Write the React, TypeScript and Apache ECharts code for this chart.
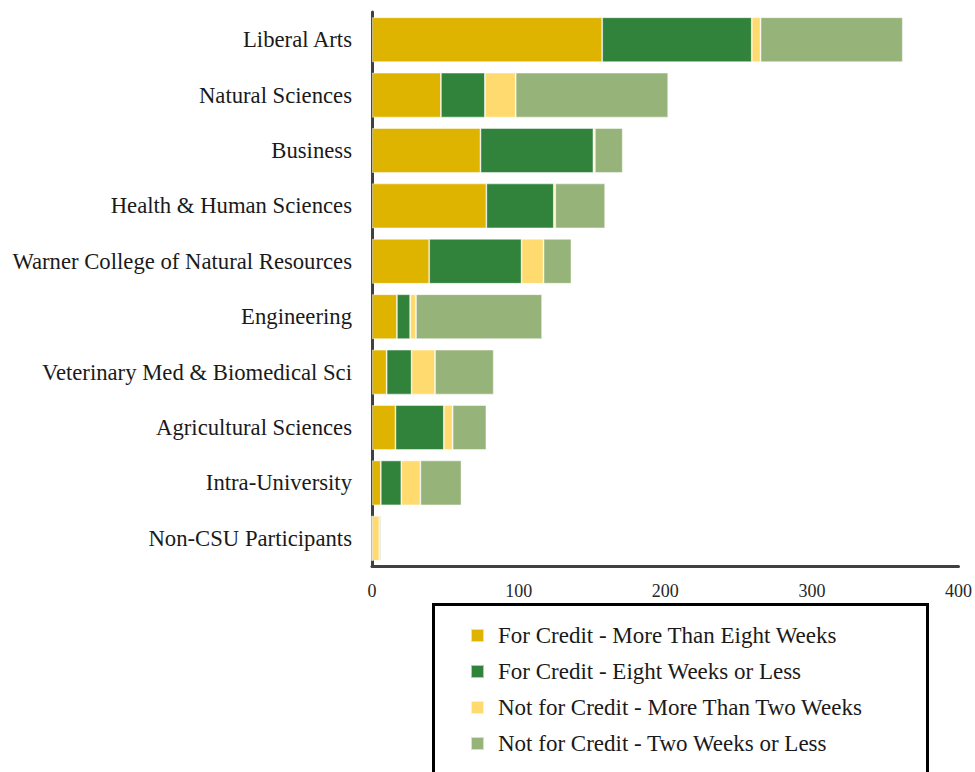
import React, { useEffect, useRef } from "react";
import * as echarts from "echarts";

const categories = [
  "Liberal Arts",
  "Natural Sciences",
  "Business",
  "Health & Human Sciences",
  "Warner College of Natural Resources",
  "Engineering",
  "Veterinary Med & Biomedical Sci",
  "Agricultural Sciences",
  "Intra-University",
  "Non-CSU Participants",
];

const seriesNames = [
  "For Credit - More Than Eight Weeks",
  "For Credit - Eight Weeks or Less",
  "Not for Credit - More Than Two Weeks",
  "Not for Credit - Two Weeks or Less",
];

const creditMoreThanEight = [157, 47, 74, 78, 39, 17, 10, 16, 6, 0];
const creditEightOrLess = [102, 30, 77, 46, 63, 9, 17, 33, 14, 0];
const notCreditMoreThanTwo = [6, 21, 1, 1, 15, 4, 16, 6, 13, 5];
const notCreditTwoOrLess = [97, 104, 19, 34, 19, 86, 40, 23, 28, 1];

const xTicks = [0, 100, 200, 300, 400];

const colors = ["#DFB400", "#31823B", "#FFDA6F", "#96B379"];

const FONT = "Liberation Serif";

export default function App() {
  const ref = useRef<HTMLDivElement>(null);
  useEffect(() => {
    if (!ref.current) return;
    const chart = echarts.init(ref.current, undefined, { renderer: "svg" });
    const values = [creditMoreThanEight, creditEightOrLess, notCreditMoreThanTwo, notCreditTwoOrLess];
    chart.setOption({
      animation: false,
      textStyle: { fontFamily: FONT },
      grid: { left: 372, right: 16, top: 12, bottom: 206, containLabel: false },
      xAxis: {
        type: "value",
        min: xTicks[0],
        max: xTicks[xTicks.length - 1],
        interval: 100,
        axisLine: { show: true, lineStyle: { color: "#404040", width: 3 } },
        axisTick: { show: false },
        splitLine: { show: false },
        axisLabel: { color: "#262626", fontSize: 18, fontFamily: FONT, margin: 16 },
      },
      yAxis: {
        type: "category",
        inverse: true,
        data: categories,
        axisLine: { show: true, lineStyle: { color: "#404040", width: 3 } },
        axisTick: { show: false },
        axisLabel: { color: "#1a1a1a", fontSize: 22.7, fontFamily: FONT, margin: 20 },
      },
      legend: {
        orient: "vertical",
        left: 465,
        top: 619,
        itemWidth: 13,
        itemHeight: 13,
        itemGap: 13,
        icon: "rect",
        textStyle: { fontSize: 23, color: "#1a1a1a", fontFamily: FONT, padding: [0, 0, 0, 9] },
        data: seriesNames,
      },
      graphic: [
        {
          type: "rect",
          left: 431,
          top: 602,
          shape: { width: 494, height: 190 },
          style: { fill: "none", stroke: "#000", lineWidth: 3 },
          z: 0,
        },
      ],
      series: seriesNames.map((name, i) => ({
        name,
        type: "bar",
        stack: "total",
        barCategoryGap: "19%",
        data: values[i],
        itemStyle: { color: colors[i], borderColor: "rgba(255,255,255,0.6)", borderWidth: 0.8 },
      })),
    });
    return () => chart.dispose();
  }, []);
  return (
    <div
      ref={ref}
      style={{ position: "absolute", left: 0, top: 0, width: 975, height: 772, overflow: "hidden" }}
    />
  );
}
